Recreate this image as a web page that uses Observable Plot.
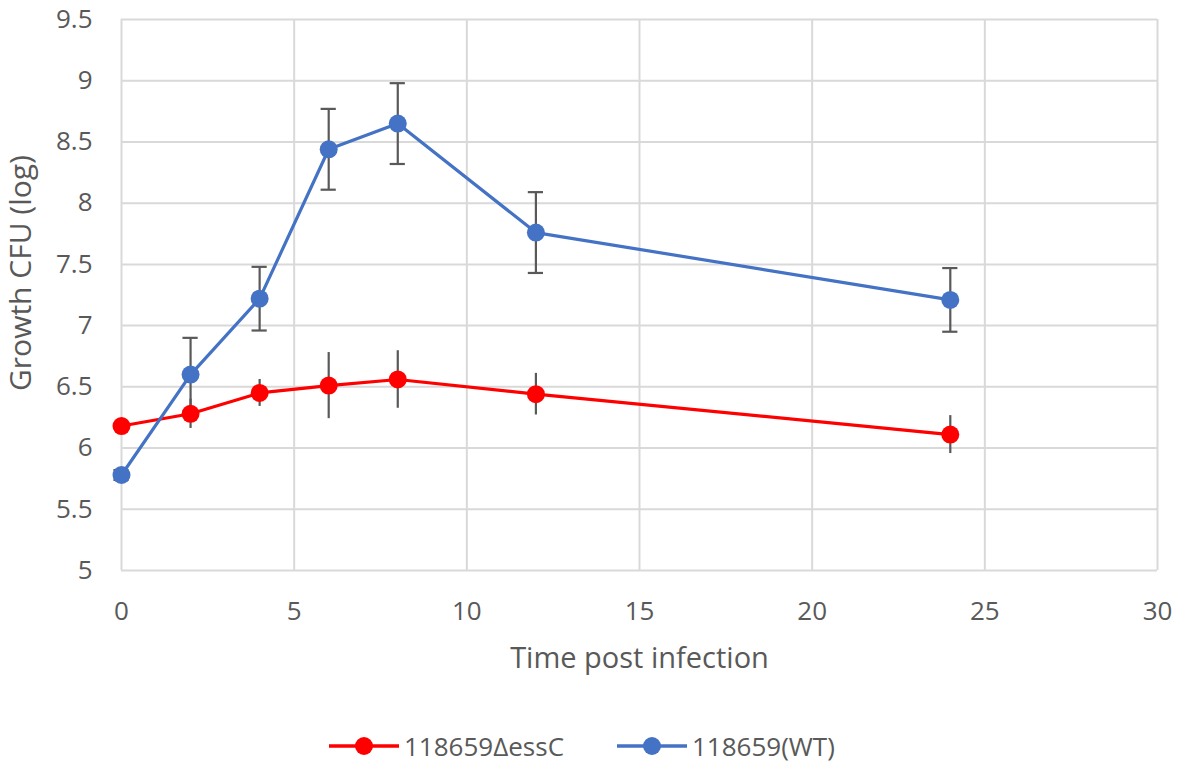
<!DOCTYPE html>
<html><head><meta charset="utf-8">
<script src="https://cdn.jsdelivr.net/npm/d3@7"></script>
<script src="https://cdn.jsdelivr.net/npm/@observablehq/plot@0.6"></script>
<style>
body{margin:0;background:#fff;font-family:"Open Sans",sans-serif}
#legend{position:relative;height:65px;font-size:26px;color:#595959}
.item{position:absolute;top:28px;display:flex;align-items:center;height:36px;white-space:nowrap}
.item svg{margin-right:5px}
</style>
</head><body>
<div id="chart"></div>
<div id="legend"></div>
<script>
const time = [0, 2, 4, 6, 8, 12, 24];
const wtValues = [5.78, 6.60, 7.22, 8.44, 8.65, 7.76, 7.21];
const wtErrors = [0.04, 0.30, 0.26, 0.33, 0.33, 0.33, 0.26];
const essValues = [6.18, 6.28, 6.45, 6.51, 6.56, 6.44, 6.11];
const essErrors = [0.03, 0.12, 0.11, 0.27, 0.235, 0.17, 0.155];
const seriesNames = ["118659\u0394essC", "118659(WT)"];
const seriesColors = ["#FF0000", "#4472C4"];
const xTicks = [0, 5, 10, 15, 20, 25, 30];
const yTicks = [5, 5.5, 6, 6.5, 7, 7.5, 8, 8.5, 9, 9.5];
const xTitle = "Time post infection";
const yTitle = "Growth CFU (log)";

const ess = time.map((t, i) => ({x: t, y: essValues[i], e: essErrors[i], s: seriesNames[0]}));
const wt = time.map((t, i) => ({x: t, y: wtValues[i], e: wtErrors[i], s: seriesNames[1]}));
const capHalf = 0.22;
const errColor = "#595959";
const grid = {stroke: "#d9d9d9", strokeOpacity: 1, strokeWidth: 2};

const chart = Plot.plot({
  width: 1181, height: 700,
  marginTop: 19, marginLeft: 121, marginRight: 24, marginBottom: 130,
  style: {fontFamily: '"Open Sans", sans-serif', fontSize: "26px", color: "#595959", background: "#fff"},
  x: {domain: [0, 30]},
  y: {domain: [5, 9.5]},
  marks: [
    Plot.gridX(xTicks, grid),
    Plot.gridY(yTicks, grid),
    Plot.axisX(xTicks, {tickSize: 0, tickPadding: 31, tickFormat: d => String(d), label: null}),
    Plot.axisY(yTicks, {tickSize: 0, tickPadding: 29, tickFormat: d => String(d), label: null}),
    Plot.text([xTitle], {frameAnchor: "bottom", dy: 88.7, textAnchor: "middle", lineAnchor: "middle", fontSize: 29, fill: "#595959"}),
    Plot.text([yTitle], {frameAnchor: "left", dx: -100.5, dy: -22, rotate: -90, textAnchor: "middle", lineAnchor: "middle", fontSize: 30, fill: "#595959"}),
    // error bars
    Plot.ruleX(wt, {x: "x", y1: d => d.y - d.e, y2: d => d.y + d.e, stroke: errColor, strokeWidth: 2.2}),
    Plot.ruleY(wt, {y: d => d.y - d.e, x1: d => d.x - capHalf, x2: d => d.x + capHalf, stroke: errColor, strokeWidth: 2.2}),
    Plot.ruleY(wt, {y: d => d.y + d.e, x1: d => d.x - capHalf, x2: d => d.x + capHalf, stroke: errColor, strokeWidth: 2.2}),
    Plot.ruleX(ess, {x: "x", y1: d => d.y - d.e, y2: d => d.y + d.e, stroke: errColor, strokeWidth: 2.2}),
    // lines and markers
    Plot.line(ess, {x: "x", y: "y", stroke: seriesColors[0], strokeWidth: 3.2}),
    Plot.line(wt, {x: "x", y: "y", stroke: seriesColors[1], strokeWidth: 3.2}),
    Plot.dot(ess, {x: "x", y: "y", r: 9, fill: seriesColors[0], stroke: null}),
    Plot.dot(wt, {x: "x", y: "y", r: 9, fill: seriesColors[1], stroke: null})
  ]
});
document.getElementById("chart").appendChild(chart);

const legend = document.getElementById("legend");
const legendLeft = [329, 617];
seriesNames.forEach((name, i) => {
  const item = document.createElement("div");
  item.className = "item";
  item.style.left = legendLeft[i] + "px";
  item.innerHTML = `<svg width="70" height="20"><line x1="0" x2="70" y1="10" y2="10" stroke="${seriesColors[i]}" stroke-width="3.5"/><circle cx="35" cy="10" r="9" fill="${seriesColors[i]}"/></svg><span>${name}</span>`;
  legend.appendChild(item);
});
</script>
</body></html>
